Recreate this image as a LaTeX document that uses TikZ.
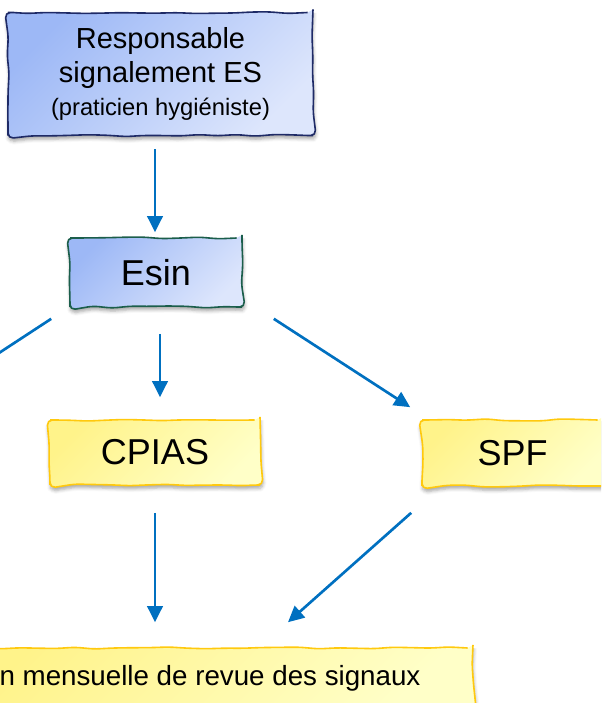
\documentclass[tikz,border=0pt]{standalone}
\usepackage{fontspec}
\setmainfont{Liberation Sans}
\usetikzlibrary{arrows.meta,calc,decorations.pathmorphing,shadows.blur}

\definecolor{flowblue}{HTML}{0070C0}
\definecolor{boxnavy}{HTML}{1E2A66}
\definecolor{boxgreen}{HTML}{1B5E4B}
\definecolor{bluedark}{HTML}{9DB8F6}
\definecolor{bluelight}{HTML}{DDE6FC}
\definecolor{yellowdark}{HTML}{FFF38A}
\definecolor{yellowlight}{HTML}{FFFFC8}
\definecolor{boxgold}{HTML}{FFC90E}

\tikzset{
    sketchy/.style={decorate, decoration={random steps, segment length=14pt, amplitude=0.8pt}, rounded corners=4pt,
        line width=1.2pt, inner sep=0pt, align=center,
        blur shadow={shadow xshift=0.5pt, shadow yshift=-2.5pt, shadow opacity=35, shadow blur radius=2.5pt}},
    bluebox/.style={sketchy, draw=boxnavy, top color=bluedark, bottom color=bluelight, shading angle=45},
    yellowbox/.style={sketchy, draw=boxgold, top color=yellowdark, bottom color=yellowlight, shading angle=45},
    flow/.style={draw=flowblue, line width=2pt, -{Triangle[length=12pt, width=11.5pt]}}
}

\begin{document}
\begin{tikzpicture}[x=0.75pt, y=-0.75pt]
        \path[use as bounding box, clip] (0,0) rectangle (601,703);

        % Boxes
        \node[bluebox, minimum width=228.75pt, minimum height=92.25pt,
              font=\fontsize{21.75}{25}\selectfont] (resp) at (160.5,74)
              {Responsable\\signalement ES\\{\fontsize{17.8}{22}\selectfont (praticien hygiéniste)}};
        \node[bluebox, draw=boxgreen, minimum width=129pt, minimum height=51.75pt,
              font=\fontsize{27}{32}\selectfont] (esin) at (156,272.5) {Esin};
        \node[yellowbox, minimum width=157.5pt, minimum height=48.75pt,
              font=\fontsize{27}{32}\selectfont] (cpias) at (155,452.5) {CPIAS};
        \node[yellowbox, minimum width=135.75pt, minimum height=49.5pt,
              font=\fontsize{27}{32}\selectfont] (spf) at (512.5,453) {SPF};
        \node[yellowbox, minimum width=394.5pt, minimum height=45pt,
              font=\fontsize{20.8}{25}\selectfont] (revue) at (210,678) {n mensuelle de revue des signaux};
        \coordinate (offleft) at (-85,408);

        % Arrows
        \draw[flow] ($(resp.south)+(-5.5,13)$) -- ($(esin.north)+(-1,-5)$);
        \draw[flow] ($(esin.south west)+(-18,11)$) -- (offleft);
        \draw[flow] ($(esin.south)+(4,26)$) -- ($(cpias.north)+(5,-22)$);
        \draw[flow] ($(esin.south east)+(31,11)$) -- ($(spf.north west)+(-11,-12)$);
        \draw[flow] ($(cpias.south)+(0,27)$) -- ($(revue.north)+(-55,-25)$);
        \draw[flow] ($(spf.south west)+(-10,26)$) -- ($(revue.north)+(78,-25)$);

    \end{tikzpicture}
\end{document}
